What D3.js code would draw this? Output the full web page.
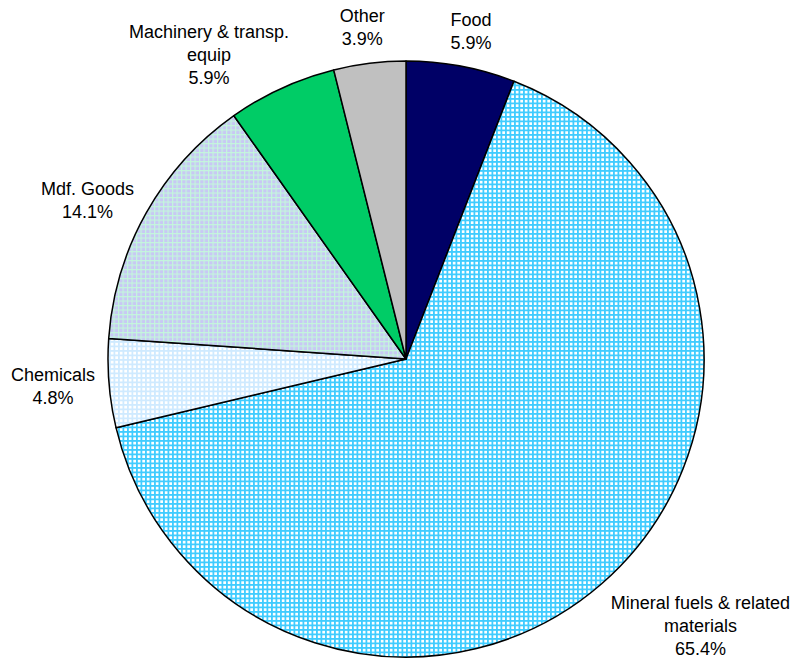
<!DOCTYPE html>
<html>
<head>
<meta charset="utf-8">
<script src="https://cdn.jsdelivr.net/npm/d3@7"></script>
<style>
  body { margin: 0; background: #ffffff; }
  svg { display: block; }
  text { font-family: "Liberation Sans", Arial, sans-serif; font-size: 18px; fill: #000000; }
</style>
</head>
<body>
<svg width="800" height="659"></svg>
<script>
// Data, clockwise from 12 o'clock
var categories = ['Food', 'Mineral fuels & related materials', 'Chemicals', 'Mdf. Goods', 'Machinery & transp. equip', 'Other'];
var shares = [5.9, 65.4, 4.8, 14.1, 5.9, 3.9];
// how each label is broken into lines
var labelLines = [['Food'], ['Mineral fuels & related', 'materials'], ['Chemicals'], ['Mdf. Goods'], ['Machinery & transp.', 'equip'], ['Other']];

var svg = d3.select('svg');
var width = 800, height = 659;
var cx = 406, cy = 359;     // pie centre
var radius = 298;
var lineHeight = 23;

// Fills: solid colours and Excel-like grid patterns
var fills = ['#000066', 'url(#gridCyan)', 'url(#gridPale)', 'url(#gridLilac)', '#00cc66', '#c0c0c0'];

var defs = svg.append('defs');

function addGrid(id, bg, lineColor, step, lw) {   // small square grid pattern
  var p = defs.append('pattern')
    .attr('id', id)
    .attr('patternUnits', 'userSpaceOnUse')
    .attr('width', step)
    .attr('height', step);
  p.append('rect').attr('width', step).attr('height', step).attr('fill', bg);
  p.append('rect').attr('x', 0).attr('y', 0).attr('width', lw).attr('height', step).attr('fill', lineColor);
  p.append('rect').attr('x', 0).attr('y', 0).attr('width', step).attr('height', lw).attr('fill', lineColor);
}

addGrid('gridCyan', '#ffffff', '#40ccff', 4.5, 1.8);
addGrid('gridPale', '#ffffff', '#cfeaff', 4.5, 1.8);
addGrid('gridLilac', '#c8c8f4', '#c4f6dc', 4.5, 1.2);

var pie = d3.pie().sort(null).value(function (d) { return d; });
var arcs = pie(shares);

var arc = d3.arc().innerRadius(0).outerRadius(radius);

var g = svg.append('g').attr('transform', 'translate(' + cx + ',' + cy + ')');

g.selectAll('path.slice')
  .data(arcs)
  .enter()
  .append('path')
  .attr('class', 'slice')
  .attr('d', arc)
  .attr('fill', function (d, i) { return fills[i]; })
  .attr('stroke', '#000000')
  .attr('stroke-width', 1.5)
  .attr('stroke-linejoin', 'round');

// Labels: anchored just outside the rim, box pushed away from the pie
var labels = g.selectAll('g.label')
  .data(arcs)
  .enter()
  .append('g')
  .attr('class', 'label');

labels.each(function (d, i) {
  var sel = d3.select(this);
  var lines = labelLines[i].concat([d3.format('.1f')(shares[i]) + '%']);
  var t = sel.append('text').attr('text-anchor', 'middle');
  lines.forEach(function (s, j) {
    t.append('tspan').attr('x', 0).attr('y', j * lineHeight).text(s);
  });
  var w = d3.max(t.selectAll('tspan').nodes(), function (n) { return n.getComputedTextLength(); });
  var h = lines.length * lineHeight;
  var a = (d.startAngle + d.endAngle) / 2;
  var r = radius + 14;
  var px = Math.sin(a) * r, py = -Math.cos(a) * r;
  var k = Math.max(-1, Math.min(1, Math.sin(a) * 2));
  var f = Math.cos(a) > 0 ? 1 - 0.5 * k * k : 1.2;   // upper labels lean sideways, lower ones drop further
  var bx = px + k * w / 2;
  var by = py - Math.cos(a) * h / 2 * f;
  // centre of text block at (bx, by); first baseline sits ~ 6px below top line centre
  sel.attr('transform', 'translate(' + bx + ',' + (by - h / 2 + lineHeight / 2 + 6) + ')');
});
</script>
</body>
</html>
